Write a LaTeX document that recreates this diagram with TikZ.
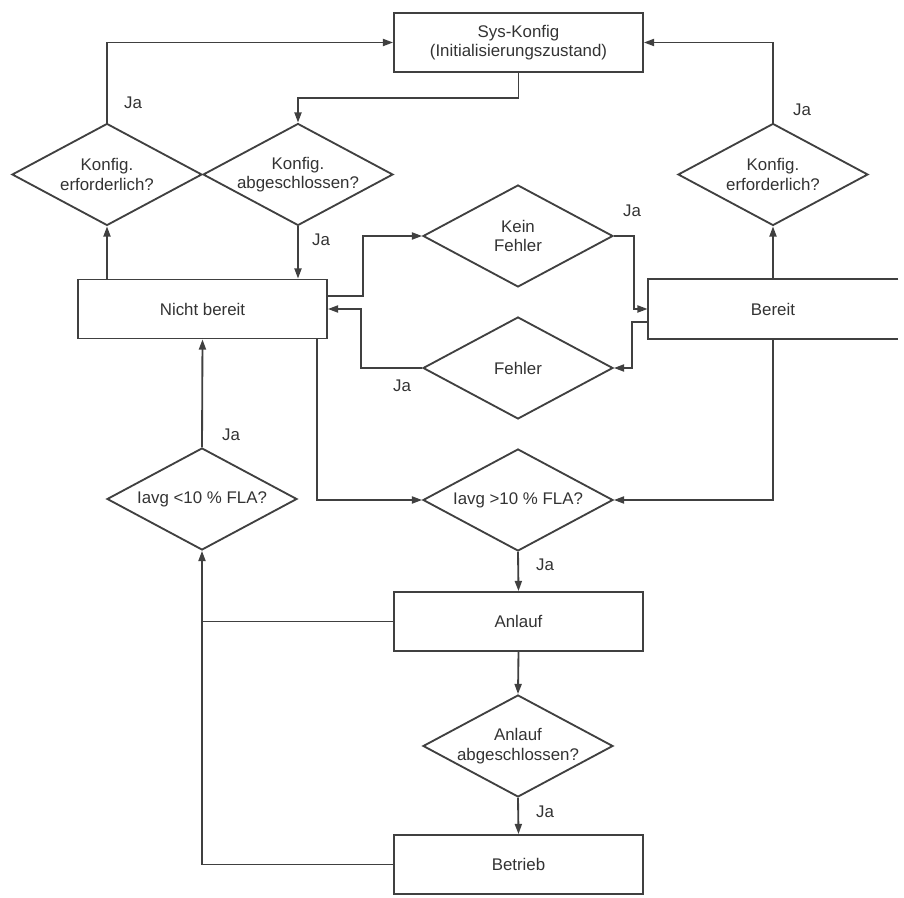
\documentclass[tikz,border=0pt]{standalone}
\usepackage{fontspec}
\setmainfont{Liberation Sans}
\usetikzlibrary{arrows.meta,positioning,calc,shapes.geometric}

\begin{document}
\begin{tikzpicture}[
  x=0.02cm, y=-0.02cm,
  font=\fontsize{9.6}{11}\selectfont,
  text=black!80,
  box/.style={draw=black!75, line width=1.05pt, minimum width=4.98cm, minimum height=1.18cm, inner sep=0pt, align=center},
  decision/.style={diamond, draw=black!75, line width=1.05pt, minimum width=3.8cm, minimum height=2.04cm, inner sep=0pt, shape aspect=1.86, align=center},
  arrow/.style={-{Triangle[length=5.8pt,width=4pt]}, line width=1.05pt, draw=black!75},
  line/.style={line width=1.05pt, draw=black!75},
  ja/.style={inner sep=1pt}
]
\useasboundingbox (0,0) rectangle (904,898);

% states
\node[box] (sys) at (518.5,42.5) {Sys-Konfig\\(Initialisierungszustand)};
\node[box] (nicht) at (202.5,309) {Nicht bereit};
\node[box, draw=none] (bereit) at (773,309) {Bereit};
\draw[line] (bereit.north east) -- (bereit.north west) -- (bereit.south west) -- (bereit.south east);
\node[box] (anlauf) at (518.5,621.5) {Anlauf};
\node[box] (betrieb) at (518.5,864.5) {Betrieb};

% decisions
\node[decision] (erfA) at (107,174.5) {Konfig.\\erforderlich?};
\node[decision] (abg) at (298,174.5) {Konfig.\\abgeschlossen?};
\node[decision] (erfB) at (773,174.5) {Konfig.\\erforderlich?};
\node[decision] (kein) at (518,236) {Kein\\Fehler};
\node[decision] (fehler) at (518,368) {Fehler};
\node[decision] (kleiner) at (202,499) {Iavg <10 \% FLA?};
\node[decision] (groesser) at (518,500) {Iavg >10 \% FLA?};
\node[decision] (aabg) at (518,746) {Anlauf\\abgeschlossen?};

% Ja labels
\node[ja] (jaA) at (133,103) {Ja};
\node[ja] (jaAbg) at (321,240) {Ja};
\node[ja] (jaKein) at (632,211) {Ja};
\node[ja] (jaFehler) at (402,386) {Ja};
\node[ja] (jaB) at (802,110) {Ja};
\node[ja] (jaKl) at (231,435) {Ja};
\node[ja] (jaGr) at (545,565) {Ja};
\node[ja] (jaAabg) at (545,812) {Ja};

% connectors
\draw[arrow] (erfA.south |- nicht.north) -- (erfA.south);
\draw[arrow] (erfA.north) |- (sys.west);
\draw[arrow] (sys.south) -- ++(0,25) -| (abg.north);
\draw[arrow] (abg.south) -- (abg.south |- nicht.north);
\draw[arrow] ($(nicht.east)+(0,-13)$) -- ++(35,0) |- (kein.west);
\draw[arrow] (kein.east) -- ++(20,0) |- (bereit.west);
\draw[arrow] ($(bereit.west)+(0,13)$) -- ++(-16,0) |- (fehler.east);
\draw[arrow] (fehler.west) -- ++(-61,0) |- (nicht.east);
\draw[arrow] (bereit.north) -- (erfB.south);
\draw[arrow] (erfB.north) |- (sys.east);
\draw[arrow] ($(nicht.south east)+(-11,0)$) |- (groesser.west);
\draw[arrow] (bereit.south) |- (groesser.east);
\draw[arrow] (kleiner.north) -- (nicht.south);
\draw[arrow] (groesser.south) -- (anlauf.north);
\draw[arrow] (anlauf.south) -- (aabg.north);
\draw[arrow] (aabg.south) -- (betrieb.north);
\draw[arrow] (betrieb.west) -| (kleiner.south);
\draw[line] (anlauf.west) -- (anlauf.west -| kleiner.south);

\end{tikzpicture}
\end{document}
